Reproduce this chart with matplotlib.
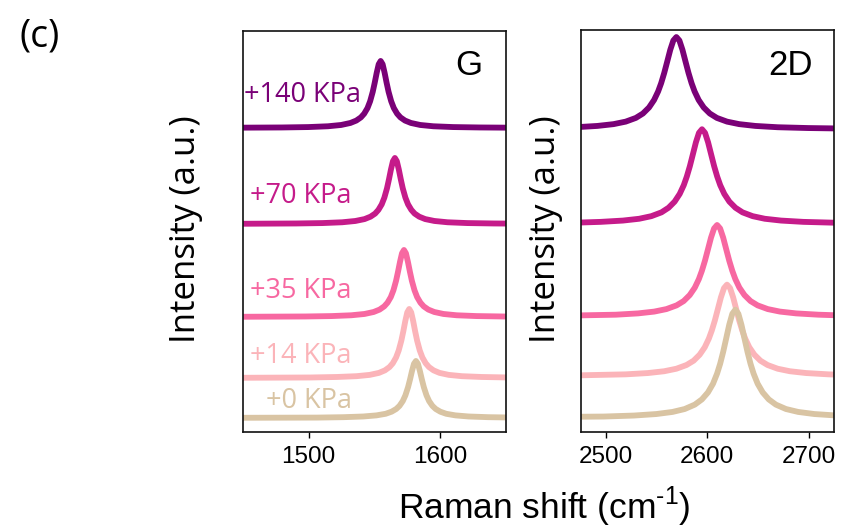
"""Raman G and 2D bands of graphene under increasing pressure, stacked."""

import matplotlib

matplotlib.use("Agg")
import matplotlib.pyplot as plt  # noqa: E402

plt.rcParams["mathtext.fontset"] = "custom"
plt.rcParams["mathtext.rm"] = "Liberation Sans"

LABELS = ["+140 KPa", "+70 KPa", "+35 KPa", "+14 KPa", "+0 KPa"]
COLORS = ["#7a0177", "#c51b8a", "#f768a1", "#fbb4b9", "#d9c4a3"]

# G band (x in cm-1, y in arbitrary units)
G_X_140 = [1448, 1479.8, 1499.8, 1514.8, 1524.8, 1531.8, 1536.3, 1539.8, 1542.3, 1544.8,
           1546.8, 1548.8, 1550.3, 1551.8, 1553.3, 1554.8,
           1556.3, 1557.8, 1559.3, 1560.8, 1562.8, 1564.8, 1567.3, 1569.8, 1573.3,
           1577.8, 1584.8, 1594.8, 1609.8, 1629.8, 1652]
G_Y_140 = [304.3, 304.5, 304.9, 305.7, 307.0, 309.0, 311.4, 314.6, 318.3, 323.9,
           330.7, 340.2, 349.3, 359.2, 367.7, 371,
           367.7, 359.2, 349.3, 340.2, 330.7, 323.9, 318.3, 314.6, 311.4,
           309.0, 307.0, 305.7, 304.9, 304.5, 304.3]
G_X_70 = [1448, 1490.6, 1510.6, 1525.6, 1535.6, 1542.6, 1547.1, 1550.6, 1553.1, 1555.6,
          1557.6, 1559.6, 1561.1, 1562.6, 1564.1, 1565.6,
          1567.1, 1568.6, 1570.1, 1571.6, 1573.6, 1575.6, 1578.1, 1580.6, 1584.1,
          1588.6, 1595.6, 1605.6, 1620.6, 1640.6, 1652]
G_Y_70 = [208.2, 208.5, 208.9, 209.7, 211.0, 212.9, 215.3, 218.4, 222.1, 227.6,
          234.3, 243.6, 252.6, 262.4, 270.7, 274,
          270.7, 262.4, 252.6, 243.6, 234.3, 227.6, 222.1, 218.4, 215.3,
          212.9, 211.0, 209.7, 208.9, 208.5, 208.4]
G_X_35 = [1448, 1497.5, 1517.5, 1532.5, 1542.5, 1549.5, 1554, 1557.5, 1560, 1562.5,
          1564.5, 1566.5, 1568, 1569.5, 1571, 1572.5,
          1574, 1575.5, 1577, 1578.5, 1580.5, 1582.5, 1585, 1587.5, 1591,
          1595.5, 1602.5, 1612.5, 1627.5, 1647.5, 1652]
G_Y_35 = [115.2, 115.5, 115.9, 116.7, 118.0, 120.0, 122.4, 125.6, 129.3, 134.9,
          141.7, 151.2, 160.3, 170.2, 178.7, 182,
          178.7, 170.2, 160.3, 151.2, 141.7, 134.9, 129.3, 125.6, 122.4,
          120.0, 118.0, 116.7, 115.9, 115.5, 115.4]
G_X_14 = [1448, 1501.5, 1521.5, 1536.5, 1546.5, 1553.5, 1558, 1561.5, 1564, 1566.5,
          1568.5, 1570.5, 1572, 1573.5, 1575, 1576.5,
          1578, 1579.5, 1581, 1582.5, 1584.5, 1586.5, 1589, 1591.5, 1595,
          1599.5, 1606.5, 1616.5, 1631.5, 1652]
G_Y_14 = [54.2, 54.5, 55.0, 55.8, 57.1, 59.1, 61.6, 64.9, 68.7, 74.5,
          81.5, 91.3, 100.6, 110.9, 119.6, 123,
          119.6, 110.9, 100.6, 91.3, 81.5, 74.5, 68.7, 64.9, 61.6,
          59.1, 57.1, 55.8, 55.0, 54.5]
G_X_0 = [1448, 1506.6, 1526.6, 1541.6, 1551.6, 1558.6, 1563.1, 1566.6, 1569.1, 1571.6,
         1573.6, 1575.6, 1577.1, 1578.6, 1580.1, 1581.6,
         1583.1, 1584.6, 1586.1, 1587.6, 1589.6, 1591.6, 1594.1, 1596.6, 1600.1,
         1604.6, 1611.6, 1621.6, 1636.6, 1652]
G_Y_0 = [14.2, 14.4, 14.8, 15.5, 16.6, 18.2, 20.3, 23.0, 26.1, 30.9,
         36.7, 44.8, 52.5, 61.0, 68.2, 71,
         68.2, 61.0, 52.5, 44.8, 36.7, 30.9, 26.1, 23.0, 20.3,
         18.2, 16.6, 15.5, 14.8, 14.5]

# 2D band
D_X_140 = [2473, 2491.4, 2507.4, 2519.4, 2529.4, 2536.4, 2542.4, 2547.4, 2551.4, 2554.4,
           2557.4, 2560.4, 2563.4, 2566.4, 2569.4,
           2572.4, 2575.4, 2578.4, 2581.4, 2584.4, 2587.4, 2591.4, 2596.4, 2602.4,
           2609.4, 2619.4, 2631.4, 2647.4, 2669.4, 2699.4, 2728]
D_Y_140 = [304.2, 305.3, 307.1, 309.6, 313.3, 317.7, 323.7, 331.2, 339.7, 348.0,
           358.1, 369.6, 381.3, 390.5, 394,
           390.5, 381.3, 369.6, 358.1, 348.0, 339.7, 331.2, 323.7, 317.7,
           313.3, 309.6, 307.1, 305.3, 304.0, 303.2, 302.8]
D_X_70 = [2473, 2494.7, 2516.7, 2532.7, 2544.7, 2554.7, 2561.7, 2567.7, 2572.7, 2576.7,
          2579.7, 2582.7, 2585.7, 2588.7, 2591.7, 2594.7,
          2597.7, 2600.7, 2603.7, 2606.7, 2609.7, 2612.7, 2616.7, 2621.7, 2627.7,
          2634.7, 2644.7, 2656.7, 2672.7, 2694.7, 2728]
D_Y_70 = [208.9, 209.6, 210.9, 212.7, 215.3, 219.1, 223.7, 229.8, 237.5, 246.2,
          254.8, 265.1, 277.0, 289.0, 298.4, 302,
          298.4, 289.0, 277.0, 265.1, 254.8, 246.2, 237.5, 229.8, 223.7,
          219.1, 215.3, 212.7, 210.9, 209.6, 208.7]
D_X_35 = [2473, 2509.6, 2531.6, 2547.6, 2559.6, 2569.6, 2576.6, 2582.6, 2587.6, 2591.6,
          2594.6, 2597.6, 2600.6, 2603.6, 2606.6, 2609.6,
          2612.6, 2615.6, 2618.6, 2621.6, 2624.6, 2627.6, 2631.6, 2636.6, 2642.6,
          2649.6, 2659.6, 2671.6, 2687.6, 2709.6, 2728]
D_Y_35 = [116.3, 117.0, 118.3, 120.1, 122.6, 126.3, 130.6, 136.6, 144.0, 152.5,
          160.8, 170.8, 182.3, 193.9, 203.0, 206.5,
          203.0, 193.9, 182.3, 170.8, 160.8, 152.5, 144.0, 136.6, 130.6,
          126.3, 122.6, 120.1, 118.3, 117.0, 116.4]
D_X_14 = [2473, 2519.4, 2541.4, 2557.4, 2569.4, 2579.4, 2586.4, 2592.4, 2597.4, 2601.4,
          2604.4, 2607.4, 2610.4, 2613.4, 2616.4, 2619.4,
          2622.4, 2625.4, 2628.4, 2631.4, 2634.4, 2637.4, 2641.4, 2646.4, 2652.4,
          2659.4, 2669.4, 2681.4, 2697.4, 2719.4, 2728]
D_Y_14 = [56.5, 57.5, 58.8, 60.6, 63.1, 66.8, 71.1, 77.1, 84.5, 93.0,
          101.3, 111.3, 122.8, 134.4, 143.5, 147,
          143.5, 134.4, 122.8, 111.3, 101.3, 93.0, 84.5, 77.1, 71.1,
          66.8, 63.1, 60.6, 58.8, 57.5, 57.2]
D_X_0 = [2473, 2497.6, 2527.6, 2549.6, 2565.6, 2577.6, 2587.6, 2594.6, 2600.6, 2605.6,
         2609.6, 2612.6, 2615.6, 2618.6, 2621.6, 2624.6, 2627.6,
         2630.6, 2633.6, 2636.6, 2639.6, 2642.6, 2645.6, 2649.6, 2654.6, 2660.6,
         2667.6, 2677.6, 2689.6, 2705.6, 2728]
D_Y_0 = [15.2, 15.4, 16.4, 17.9, 20.0, 22.9, 27.3, 32.5, 39.5, 48.2,
         58.3, 68.0, 79.9, 93.4, 107.1, 117.9, 122,
         117.9, 107.1, 93.4, 79.9, 68.0, 58.3, 48.2, 39.5, 32.5,
         27.3, 22.9, 20.0, 17.9, 16.4]

G_CURVES = [(G_X_140, G_Y_140), (G_X_70, G_Y_70), (G_X_35, G_Y_35),
            (G_X_14, G_Y_14), (G_X_0, G_Y_0)]
D_CURVES = [(D_X_140, D_Y_140), (D_X_70, D_Y_70), (D_X_35, D_Y_35),
            (D_X_14, D_Y_14), (D_X_0, D_Y_0)]

G_TICKS = [1500, 1600]
D_TICKS = [2500, 2600, 2700]

# label anchors (right edge x in cm-1, centre y in a.u.)
LABEL_POS = [(1540, 337), (1533, 236), (1533, 141), (1533, 76), (1533, 31)]

TEXT_FONT = ["Open Sans", "DejaVu Sans"]
AXIS_FONT = ["Liberation Sans", "DejaVu Sans"]


def _style(ax, xlim, ticks, label_x):
    ax.set_xlim(*xlim)
    ax.set_ylim(0, 401)
    ax.set_yticks([])
    ax.set_xticks(ticks)
    ax.set_xticklabels([str(t) for t in ticks], family=AXIS_FONT, fontsize=17.5)
    ax.tick_params(axis="x", direction="out", length=4, width=1.0, pad=6)
    for spine in ax.spines.values():
        spine.set_linewidth(1.2)
        spine.set_color("#111111")
    ax.set_ylabel("Intensity (a.u.)", family=TEXT_FONT, fontsize=25)
    ax.yaxis.set_label_coords(label_x, 0.505)


fig = plt.figure(figsize=(8.5, 5.32), dpi=100)
ax_g = fig.add_axes([0.2855, 0.188, 0.3098, 0.7538])
ax_d = fig.add_axes([0.6832, 0.188, 0.2980, 0.7556])

for (x, y), color in zip(G_CURVES, COLORS):
    ax_g.plot(x, y, color=color, lw=4.2, solid_joinstyle="round", solid_capstyle="butt")
for (x, y), color in zip(D_CURVES, COLORS):
    ax_d.plot(x, y, color=color, lw=4.2, solid_joinstyle="round", solid_capstyle="butt")

_style(ax_g, (1450, 1650), G_TICKS, -0.15)
_style(ax_d, (2475, 2725), D_TICKS, -0.07)

for label, color, (lx, ly) in zip(LABELS, COLORS, LABEL_POS):
    ax_g.text(lx, ly, label, color=color, ha="right", va="center",
              family=TEXT_FONT, fontsize=19.5)

ax_g.text(0.86, 0.915, "G", transform=ax_g.transAxes, ha="center", va="center",
          family=AXIS_FONT, fontsize=25)
ax_d.text(0.83, 0.912, "2D", transform=ax_d.transAxes, ha="center", va="center",
          family=AXIS_FONT, fontsize=25)

fig.text(0.047, 0.932, "(c)", ha="center", va="center", family=TEXT_FONT, fontsize=27)
fig.text(0.64, 0.047, "Raman shift (cm$^{\\text{-1}}$)", ha="center", va="center",
         family=AXIS_FONT, fontsize=25.5)

fig.savefig("out.png", dpi=100)
